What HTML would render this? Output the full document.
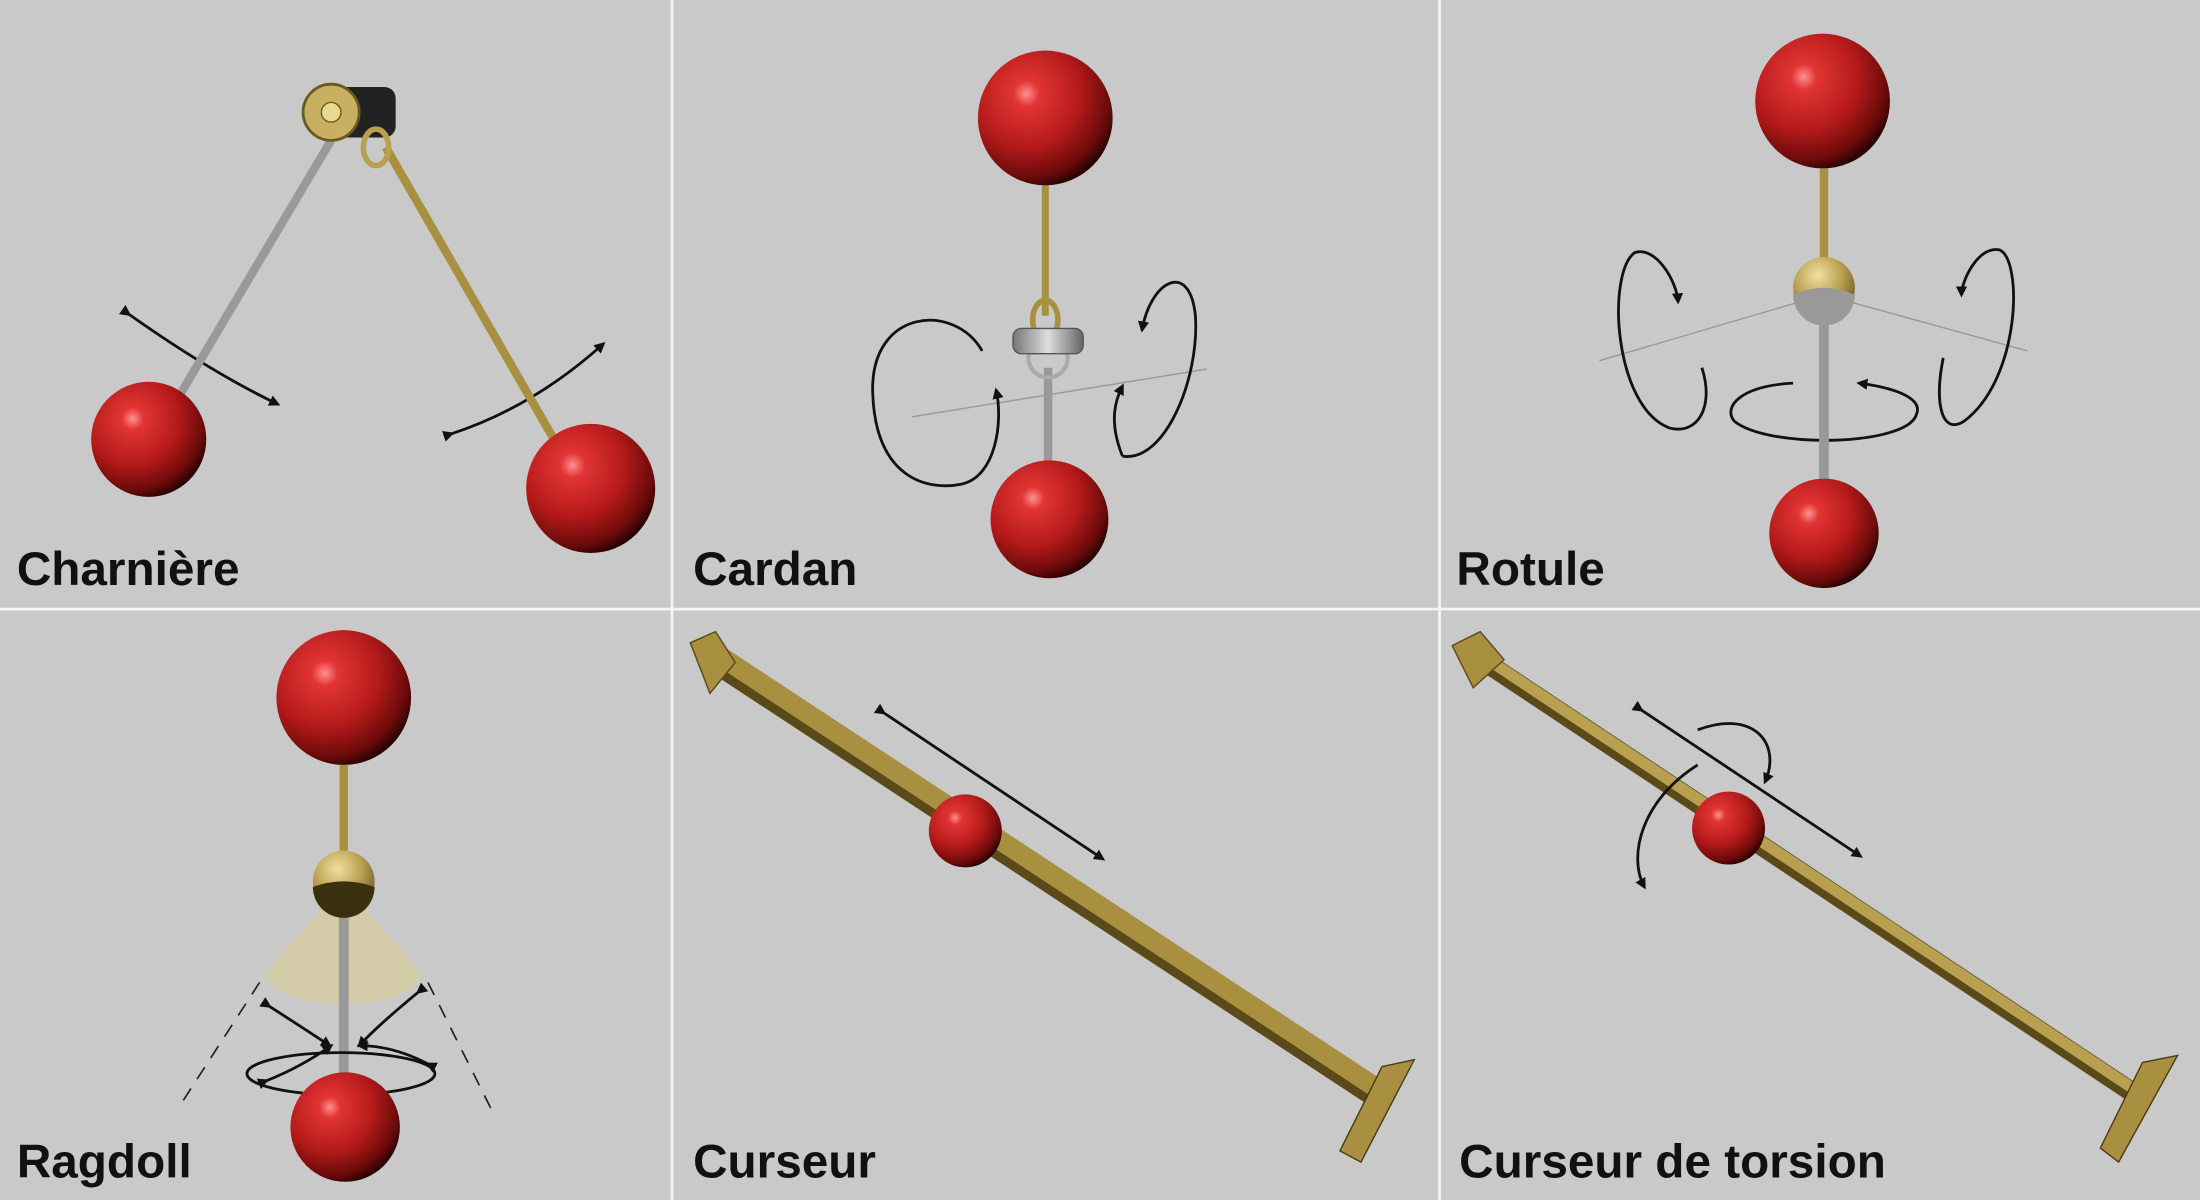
<!DOCTYPE html>
<html><head><meta charset="utf-8"><style>
html,body{margin:0;padding:0;width:2200px;height:1200px;overflow:hidden;background:#c9c9c9}
svg{display:block}
text{font-family:"Liberation Sans",sans-serif;font-weight:bold;font-size:34px;fill:#111}
</style></head><body>
<svg width="2200" height="1200" viewBox="0 0 1568 855" preserveAspectRatio="none">
<defs>
<radialGradient id="rb" cx="0.36" cy="0.32" r="0.8" fx="0.36" fy="0.32">
<stop offset="0" stop-color="#ff9090"/><stop offset="0.12" stop-color="#e23434"/><stop offset="0.5" stop-color="#b41a1a"/><stop offset="0.78" stop-color="#6a0a0a"/><stop offset="0.92" stop-color="#1a0000"/><stop offset="1" stop-color="#000"/>
</radialGradient>
<radialGradient id="gb" cx="0.4" cy="0.3" r="0.8">
<stop offset="0" stop-color="#f0e0a0"/><stop offset="0.5" stop-color="#b8a050"/><stop offset="1" stop-color="#5a4a1a"/>
</radialGradient>
<linearGradient id="gr" x1="0" x2="1"><stop offset="0" stop-color="#777"/><stop offset="0.5" stop-color="#ddd"/><stop offset="1" stop-color="#666"/></linearGradient>
<marker id="ah" markerWidth="8" markerHeight="8" refX="6" refY="4" orient="auto" markerUnits="userSpaceOnUse"><path d="M0,0 L8,4 L0,8 z" fill="#111"/></marker>
</defs>
<rect width="1568" height="855" fill="#c9c9c9"/>
<g stroke="#f4f4f4" stroke-width="2"><line x1="479" y1="0" x2="479" y2="855"/><line x1="1026" y1="0" x2="1026" y2="855"/><line x1="0" y1="434" x2="1568" y2="434"/></g>

<!-- Panel 1 -->
<g fill="none" stroke="#111" stroke-width="2" marker-end="url(#ah)" marker-start="url(#ah)">
<path d="M92,224 Q150,265 198,288"/>
<path d="M322,309 Q380,290 430,245"/>
</g>
<line x1="236" y1="100" x2="126" y2="285" stroke="#999" stroke-width="6"/>
<line x1="275" y1="105" x2="396" y2="315" stroke="#a89040" stroke-width="6"/>
<rect x="236" y="62" width="46" height="36" rx="8" fill="#222"/>
<ellipse cx="236" cy="80" rx="20" ry="20" fill="#c8b060" stroke="#6a5a20" stroke-width="2"/>
<circle cx="236" cy="80" r="7" fill="#e8d890" stroke="#6a5a20"/>
<ellipse cx="268" cy="105" rx="9" ry="13" fill="none" stroke="#b8a050" stroke-width="4"/>
<circle cx="106" cy="313" r="41" fill="url(#rb)"/>
<circle cx="421" cy="348" r="46" fill="url(#rb)"/>
<text x="12" y="417">Charnière</text>

<!-- Panel 2 -->
<line x1="650" y1="297" x2="860" y2="263" stroke="#999" stroke-width="1"/>
<g fill="none" stroke="#111" stroke-width="2" marker-end="url(#ah)">
<path d="M700,250 C680,215 620,220 622,280 C624,340 660,350 685,345 C710,340 715,300 710,278"/>
<path d="M800,325 C790,300 795,285 800,275"/>
<path d="M800,325 C830,330 855,270 852,225 C848,185 820,200 814,235"/>
</g>
<line x1="745" y1="130" x2="745" y2="225" stroke="#a89040" stroke-width="5"/>
<line x1="747" y1="262" x2="747" y2="335" stroke="#999" stroke-width="6"/>
<ellipse cx="745" cy="228" rx="9" ry="14" fill="none" stroke="#a89040" stroke-width="4"/>
<circle cx="747" cy="255" r="14" fill="none" stroke="#aaa" stroke-width="3"/>
<rect x="722" y="234" width="50" height="18" rx="6" fill="url(#gr)" stroke="#555"/>
<circle cx="745" cy="84" r="48" fill="url(#rb)"/>
<circle cx="748" cy="370" r="42" fill="url(#rb)"/>
<text x="494" y="417">Cardan</text>

<!-- Panel 3 -->
<polyline points="1140,257 1300,210 1445,250" fill="none" stroke="#999" stroke-width="1"/>
<g fill="none" stroke="#111" stroke-width="2" marker-end="url(#ah)">
<path d="M1213,262 C1222,290 1210,310 1190,305 C1150,290 1145,195 1165,180 C1180,175 1195,200 1196,215"/>
<path d="M1385,255 C1378,290 1385,310 1400,300 C1440,270 1442,185 1425,178 C1410,175 1398,200 1398,210"/>
<path d="M1278,273 C1240,275 1228,290 1236,300 C1260,320 1360,318 1366,295 C1370,285 1355,277 1325,273"/>
</g>
<line x1="1300" y1="120" x2="1300" y2="190" stroke="#a89040" stroke-width="6"/>
<line x1="1300" y1="225" x2="1300" y2="345" stroke="#999" stroke-width="7"/>
<circle cx="1300" cy="205" r="22" fill="url(#gb)"/>
<path d="M1278,210 Q1300,200 1322,210 A22,22 0 0 1 1278,210z" fill="#999"/>
<circle cx="1299" cy="72" r="48" fill="url(#rb)"/>
<circle cx="1300" cy="380" r="39" fill="url(#rb)"/>
<text x="1038" y="417">Rotule</text>

<!-- Panel 4 -->
<g stroke="#222" stroke-width="1.2" stroke-dasharray="10,8"><line x1="185" y1="700" x2="130" y2="785"/><line x1="305" y1="700" x2="350" y2="790"/></g>
<path d="M245,630 L188,695 A58,25 0 0 0 302,695 Z" fill="#d8cc9a" opacity="0.7"/>
<line x1="245" y1="545" x2="245" y2="612" stroke="#a89040" stroke-width="6"/>
<line x1="245" y1="645" x2="245" y2="775" stroke="#999" stroke-width="7"/>
<g fill="none" stroke="#111" stroke-width="2" marker-end="url(#ah)" marker-start="url(#ah)">
<path d="M192,717 Q220,735 235,745"/>
<path d="M298,707 Q270,730 256,745"/>
<path d="M190,770 Q215,760 236,745"/>
<path d="M305,758 Q280,745 256,745"/>
</g>
<ellipse cx="243" cy="765" rx="67" ry="15" fill="none" stroke="#111" stroke-width="2"/>
<circle cx="245" cy="628" r="22" fill="url(#gb)"/>
<path d="M223,632 Q245,624 267,632 A22,22 0 0 1 223,632z" fill="#3a3010"/>
<circle cx="245" cy="497" r="48" fill="url(#rb)"/>
<circle cx="246" cy="803" r="39" fill="url(#rb)"/>
<text x="12" y="839">Ragdoll</text>

<!-- Panel 5 -->
<line x1="508" y1="468" x2="990" y2="785" stroke="#5a4a1a" stroke-width="20"/>
<line x1="508" y1="464" x2="990" y2="781" stroke="#a89040" stroke-width="14"/>
<polygon points="492,458 510,450 524,472 506,494" fill="#a89040" stroke="#5a4a1a"/>
<polygon points="955,820 985,760 1008,755 970,828" fill="#a89040" stroke="#4a3a10"/>
<line x1="630" y1="508" x2="786" y2="612" stroke="#111" stroke-width="2" marker-end="url(#ah)" marker-start="url(#ah)"/>
<circle cx="688" cy="592" r="26" fill="url(#rb)"/>
<text x="494" y="839">Curseur</text>

<!-- Panel 6 -->
<line x1="1050" y1="466" x2="1530" y2="785" stroke="#5a4a1a" stroke-width="14"/>
<line x1="1050" y1="463" x2="1530" y2="782" stroke="#b8a050" stroke-width="8"/>
<polygon points="1035,460 1055,450 1072,470 1050,490" fill="#a89040" stroke="#5a4a1a"/>
<polygon points="1497,818 1527,757 1552,752 1510,828" fill="#a89040" stroke="#4a3a10"/>
<line x1="1170" y1="506" x2="1326" y2="610" stroke="#111" stroke-width="2" marker-end="url(#ah)" marker-start="url(#ah)"/>
<g fill="none" stroke="#111" stroke-width="2" marker-end="url(#ah)">
<path d="M1210,520 C1250,505 1270,530 1258,557"/>
<path d="M1210,545 C1170,570 1160,610 1172,632"/>
</g>
<circle cx="1232" cy="590" r="26" fill="url(#rb)"/>
<text x="1040" y="839">Curseur de torsion</text>
</svg>
</body></html>
